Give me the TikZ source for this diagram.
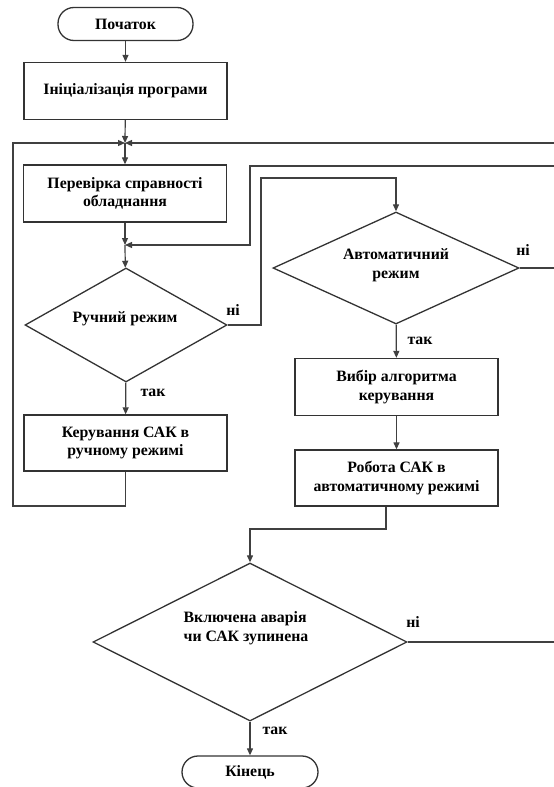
\documentclass[tikz,border=0pt]{standalone}
\usepackage{fontspec}
\setmainfont{Liberation Serif}
\usetikzlibrary{arrows.meta,shapes.geometric,positioning}

\begin{document}
\begin{tikzpicture}[
  x=1pt, y=-1pt,
  font=\fontsize{15.8}{18.5}\selectfont\bfseries,
  >={Triangle[length=7pt,width=6pt]},
  base/.style={draw=black!80, line width=1.3pt, align=center, inner sep=2pt},
  term/.style={base, rounded corners=16pt, minimum width=135pt, minimum height=33pt},
  proc/.style={base, rectangle, minimum width=203pt, minimum height=57pt},
  dec/.style={base, diamond, inner sep=0pt},
  dtext/.style={align=center},
  ans/.style={inner sep=1pt},
  ar/.style={->, line width=1.2pt, draw=black!75},
]
\useasboundingbox (0,0) rectangle (554,787);

% ---------- left column ----------
\node[term] (start) at (125.5,24) {Початок};
\node[proc] (init) at (125.5,91) {Ініціалізація програми};
\coordinate (j1) at (125,143);
\node[proc] (check) at (125,193.5) {Перевірка справності\\обладнання};
\coordinate (j2) at (125,245);
\node[dec, minimum width=202pt, minimum height=114pt] (manual) at (126,325) {};
\node[dtext] (manualtxt) at (125,319) {Ручний режим};
\node[proc, minimum height=56pt] (mctrl) at (125.5,443) {Керування САК в\\ручному режимі};

% ---------- right column ----------
\node[dec, minimum width=246pt, minimum height=112pt] (auto) at (396,268) {};
\node[dtext] (autotxt) at (396,265) {Автоматичний\\режим};
\node[proc] (algo) at (396.5,387) {Вибір алгоритма\\керування};
\node[proc, minimum height=56pt] (work) at (396.5,478) {Робота САК в\\автоматичному режимі};

% ---------- bottom ----------
\node[dec, minimum width=314pt, minimum height=158pt] (alarm) at (250,642) {};
\node[dtext, align=left] (alarmtxt) at (246,628) {Включена аварія\\чи САК зупинена};
\node[term, minimum width=136pt, minimum height=32pt] (end) at (250,772) {Кінець};

% ===== main flow =====
\draw[ar] (start) -- (init);
\draw[ar] (init) -- (j1);
\draw[ar] (j1) -- (check);
\draw[ar] (check) -- (j2);
\draw[ar] (j2) -- (manual);
\draw[ar] (manual) -- (mctrl);
\draw[ar] (mctrl.south) |- (13,506) |- (j1);

% ===== manual -> auto =====
\draw[ar] (manual.east) -| (261,178) -| (auto.north);
\draw[ar] (auto.east) -| (558,166) -| (250,245) -- (j2);
\draw[ar] (auto) -- (algo);
\draw[ar] (algo) -- (work);
\draw[ar] ([xshift=-10.5pt]work.south) |- (250,529) -- (alarm.north);

% ===== stop check =====
\draw[ar] (alarm.east) -| (562,143) -- (j1);
\draw[ar] (alarm) -- (end);

% ===== answers =====
\node[ans] (yes1) at (153,393) {так};
\node[ans] (no1) at (233,310) {ні};
\node[ans] (no2) at (523,250) {ні};
\node[ans] (yes2) at (420,341) {так};
\node[ans] (no3) at (413,622) {ні};
\node[ans] (yes3) at (275,731) {так};

\end{tikzpicture}
\end{document}
